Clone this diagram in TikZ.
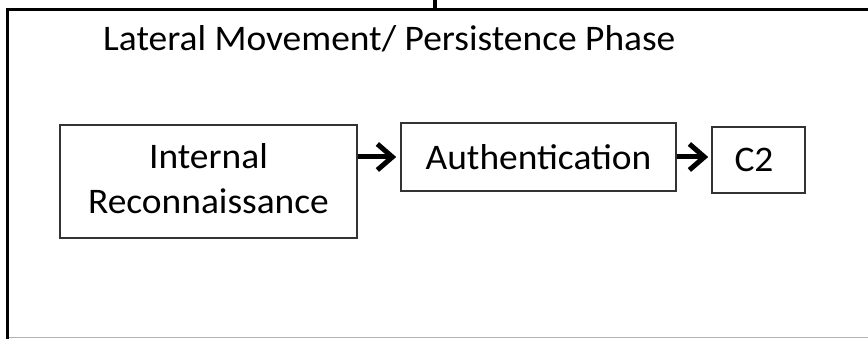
\documentclass[tikz,border=0pt]{standalone}
\usepackage{fontspec}
\setmainfont{Carlito}
\usetikzlibrary{arrows.meta}
\newcommand{\wtxt}[1]{\scalebox{1.04}[1]{#1}}
\begin{document}
\begin{tikzpicture}[x=1pt,y=1pt,
  stagebox/.style={draw=black!80,line width=1.6pt,inner sep=0pt,font=\fontsize{36}{45}\selectfont,align=center},
  flow/.style={line width=5pt,-{Straight Barb[length=15pt,width=26pt,line width=5pt]}}]
\useasboundingbox (0,0) rectangle (868,339);
\fill[white] (0,0) rectangle (868,339);
% frame
\draw[line width=3.5pt] (7.5,0) -- (7.5,329.5) -- (868,329.5);
\draw[black!30,line width=1pt] (9,1) -- (868,1);
\draw[line width=3.5pt] (435,329.5) -- (435,339);
\node[anchor=base west,font=\fontsize{36}{45}\selectfont,inner sep=0pt] (title) at (103,288) {\wtxt{Lateral Movement/ Persistence Phase}};
\node[stagebox,minimum width=297pt,minimum height=113pt,text depth=6pt] (recon) at (208.5,157.5) {\wtxt{Internal}\\\wtxt{Reconnaissance}};
\node[stagebox,minimum width=275pt,minimum height=68pt] (auth) at (538.5,182) {\wtxt{Authentication}};
\node[stagebox,minimum width=93pt,minimum height=66pt] (c2) at (758.5,179) {\hspace*{-9pt}\wtxt{C2}};
\draw[flow,shorten >=4pt] (recon.east |- 0,182) -- (auth.west |- 0,182);
\draw[flow,shorten >=3pt] (auth.east |- 0,182) -- (c2.west |- 0,182);
\end{tikzpicture}
\end{document}
